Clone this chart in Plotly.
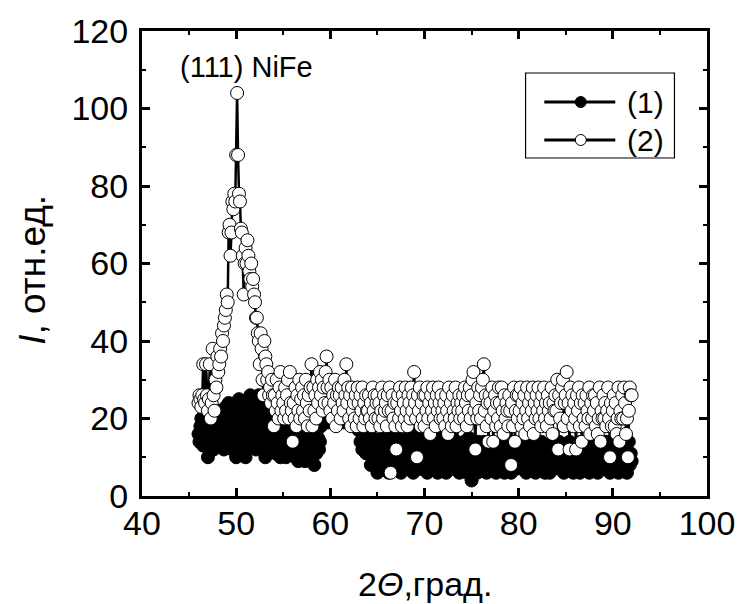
import numpy as np
import plotly.graph_objects as go

# 2-theta scan grid (degrees), step 0.1
two_theta = np.round(np.arange(46.0, 92.0001, 0.1), 1)

# Series (1) - filled circles (one row = 1 degree)
intensity_1 = [
    16, 14, 18, 20, 15, 13, 17, 19, 14, 16,
    10, 15, 18, 13, 20, 16, 12, 17, 21, 14,
    16, 19, 13, 22, 17, 15, 20, 12, 18, 23,
    15, 19, 24, 14, 21, 17, 12, 20, 16, 22,
    10, 18, 22, 25, 14, 20, 12, 17, 23, 15,
    10, 21, 16, 24, 13, 26, 19, 14, 22, 17,
    24, 12, 20, 16, 26, 18, 13, 22, 15, 19,
    21, 10, 17, 24, 14, 19, 12, 22, 16, 13,
    14, 20, 11, 17, 22, 13, 18, 10, 15, 20,
    18, 12, 16, 10, 14, 19, 11, 15, 21, 13,
    17, 12, 15, 10, 14, 18, 9, 13, 16, 11,
    14, 18, 12, 9, 16, 13, 11, 15, 10, 17,
    12, 16, 14, 8, 13, 11, 17, 15, 12, 14,
    18, 20, 19, 22, 19, 21, 20, 22, 19, 21,
    20, 22, 21, 19, 23, 20, 22, 21, 19, 22,
    21, 23, 20, 22, 19, 21, 23, 22, 20, 21,
    22, 20, 23, 21, 19, 22, 20, 18, 21, 19,
    17, 19, 14, 18, 12, 16, 13, 17, 11, 15,
    16, 11, 14, 8, 12, 15, 10, 13, 9, 14,
    6, 10, 14, 7, 12, 9, 15, 11, 8, 13,
    9, 14, 6, 11, 16, 8, 12, 10, 14, 7,
    11, 9, 15, 8, 12, 6, 10, 14, 9, 12,
    8, 13, 10, 15, 7, 11, 9, 14, 6, 12,
    10, 16, 8, 12, 9, 14, 7, 11, 13, 8,
    12, 9, 15, 6, 10, 13, 8, 14, 7, 11,
    9, 14, 8, 12, 6, 10, 15, 8, 11, 7,
    13, 9, 11, 6, 14, 8, 10, 12, 7, 16,
    9, 12, 7, 11, 14, 8, 10, 6, 13, 9,
    11, 7, 14, 9, 12, 6, 10, 15, 8, 11,
    4, 9, 13, 7, 12, 10, 6, 14, 8, 11,
    12, 7, 10, 14, 8, 11, 6, 13, 9, 12,
    8, 11, 14, 7, 10, 12, 6, 9, 13, 8,
    11, 7, 14, 9, 12, 6, 10, 13, 8, 11,
    9, 12, 6, 10, 14, 8, 11, 7, 13, 9,
    12, 8, 10, 14, 7, 11, 9, 13, 6, 10,
    14, 9, 12, 7, 11, 8, 13, 10, 6, 12,
    9, 13, 7, 11, 14, 8, 10, 12, 6, 11,
    13, 8, 11, 6, 12, 9, 14, 7, 10, 12,
    8, 12, 10, 14, 7, 11, 9, 13, 6, 10,
    12, 7, 11, 9, 14, 8, 10, 13, 6, 11,
    9, 13, 8, 12, 10, 6, 14, 9, 11, 7,
    12, 10, 14, 8, 11, 6, 13, 9, 12, 7,
    10, 14, 8, 12, 6, 11, 9, 13, 7, 10,
    13, 8, 11, 14, 7, 10, 12, 6, 9, 12,
    8, 11, 13, 7, 10, 14, 6, 9, 12, 8,
    11, 7, 13, 9, 12, 6, 10, 14, 8, 11,
    9,
]

# Series (2) - open circles (one row = 1 degree)
intensity_2 = [
    24, 26, 25, 23, 26, 34, 25, 24, 34, 26,
    22, 25, 34, 20, 24, 38, 26, 22, 30, 28,
    36, 32, 34, 38, 36, 42, 40, 44, 46, 48,
    52, 50, 68, 70, 62, 68, 76, 74, 78, 76,
    88, 104, 88, 78, 76, 69, 68, 62, 52, 60,
    64, 60, 66, 62, 58, 56, 60, 54, 56, 52,
    50, 46, 46, 42, 40, 34, 42, 38, 30, 26,
    40, 36, 34, 30, 32, 26, 28, 24, 30, 26,
    18, 26, 22, 30, 24, 20, 28, 32, 22, 26,
    24, 20, 28, 22, 26, 30, 20, 32, 24, 22,
    14, 24, 20, 28, 18, 26, 22, 30, 20, 25,
    28, 22, 26, 20, 30, 24, 18, 26, 22, 28,
    34, 18, 28, 22, 26, 20, 30, 24, 28, 32,
    26, 30, 22, 28, 24, 32, 36, 28, 24, 30,
    22, 28, 20, 26, 24, 30, 18, 26, 22, 28,
    26, 20, 28, 24, 22, 30, 26, 34, 24, 28,
    20, 26, 18, 28, 22, 24, 20, 26, 18, 28,
    24, 20, 26, 22, 28, 18, 24, 20, 26, 22,
    22, 26, 20, 24, 18, 28, 22, 26, 20, 24,
    26, 20, 24, 18, 22, 28, 20, 26, 22, 24,
    18, 26, 22, 28, 6, 22, 26, 20, 24, 18,
    12, 24, 26, 20, 28, 22, 18, 26, 24, 20,
    28, 22, 18, 26, 24, 20, 28, 22, 26, 32,
    24, 20, 10, 26, 22, 28, 18, 24, 20, 26,
    18, 26, 22, 28, 20, 24, 16, 26, 22, 28,
    20, 24, 18, 26, 22, 28, 24, 20, 26, 22,
    20, 24, 18, 26, 22, 16, 28, 20, 24, 18,
    26, 22, 20, 28, 18, 24, 22, 26, 20, 24,
    22, 26, 20, 28, 24, 18, 26, 22, 28, 20,
    26, 30, 32, 22, 12, 24, 20, 28, 22, 26,
    20, 28, 30, 34, 22, 26, 18, 24, 14, 26,
    24, 20, 28, 14, 22, 26, 18, 24, 20, 28,
    24, 18, 28, 22, 16, 26, 20, 24, 22, 18,
    26, 22, 8, 24, 18, 28, 14, 22, 26, 20,
    26, 22, 28, 18, 24, 20, 26, 16, 22, 28,
    20, 24, 18, 26, 22, 28, 16, 24, 20, 26,
    22, 28, 20, 24, 18, 26, 22, 28, 20, 24,
    18, 26, 22, 24, 20, 28, 16, 24, 22, 26,
    22, 30, 12, 26, 20, 24, 28, 30, 18, 24,
    26, 32, 20, 24, 12, 28, 22, 26, 18, 24,
    20, 12, 26, 22, 28, 18, 24, 14, 26, 20,
    24, 18, 26, 22, 20, 28, 16, 24, 20, 26,
    22, 26, 18, 24, 16, 20, 28, 14, 22, 20,
    26, 20, 24, 18, 22, 28, 20, 10, 24, 18,
    22, 26, 18, 24, 16, 20, 28, 14, 22, 20,
    26, 20, 28, 24, 16, 20, 10, 22, 28, 26,
    26,
]

x_ticks = [40, 50, 60, 70, 80, 90, 100]
y_ticks = [0, 20, 40, 60, 80, 100, 120]
series_names = ["(1)", "(2)"]

FONT = "Liberation Sans, Arial, sans-serif"
MSIZE = 13

fig = go.Figure()
fig.add_trace(go.Scatter(
    x=two_theta, y=intensity_1, mode="lines+markers", name=series_names[0],
    line=dict(color="black", width=2.5),
    marker=dict(symbol="circle", size=MSIZE, color="black", line=dict(color="black", width=1)),
    showlegend=False,
))
fig.add_trace(go.Scatter(
    x=two_theta, y=intensity_2, mode="lines+markers", name=series_names[1],
    line=dict(color="black", width=2.5),
    marker=dict(symbol="circle", size=MSIZE, color="white", line=dict(color="black", width=1)),
    showlegend=False,
))

axis_common = dict(
    showline=True, linecolor="black", linewidth=3, mirror="allticks",
    ticks="inside", ticklen=8, tickwidth=2.5, tickcolor="black",
    showgrid=False, zeroline=False,
    tickfont=dict(family=FONT, size=34, color="black"),
)

fig.update_xaxes(range=[40, 100], tickvals=x_ticks, ticklabelstandoff=-5,
                 minor=dict(ticks="inside", ticklen=4, tickwidth=2, dtick=5, tick0=40, tickcolor="black", showgrid=False),
                 **axis_common)
fig.update_yaxes(range=[0, 120], tickvals=y_ticks, ticklabelstandoff=4,
                 minor=dict(ticks="inside", ticklen=4, tickwidth=2, dtick=10, tick0=0, tickcolor="black", showgrid=False),
                 **axis_common)

annotations = [
    dict(text="(111) NiFe", x=51.1, y=110.8, xref="x", yref="y", showarrow=False,
         font=dict(family=FONT, size=29, color="black"), xanchor="center", yanchor="middle"),
    dict(text="2<i>Θ</i>,град.", x=0.5, y=-0.19, xref="paper", yref="paper", showarrow=False,
         font=dict(family=FONT, size=34, color="black"), xanchor="center", yanchor="middle"),
    dict(text="<i>I</i>, отн.ед.", x=-0.195, y=0.486, xref="paper", yref="paper", showarrow=False,
         textangle=-90, font=dict(family=FONT, size=37, color="black"), xanchor="center", yanchor="middle"),
]

# manual legend
px0, px1 = 142, 715
py0, py1 = 496, 31
def fx(p):
    return (p - px0) / (px1 - px0)
def fy(p):
    return (py0 - p) / (py0 - py1)

shapes = [
    dict(type="rect", xref="paper", yref="paper", x0=fx(531), x1=fx(682), y0=fy(158), y1=fy(73),
         line=dict(color="black", width=1.2), fillcolor="white", layer="above"),
]
legend_rows = [(102, "black"), (140, "white")]
for (row_y, fill), name in zip(legend_rows, series_names):
    shapes.append(dict(type="line", xref="paper", yref="paper", x0=fx(550), x1=fx(622),
                       y0=fy(row_y), y1=fy(row_y), line=dict(color="black", width=3), layer="above"))
    shapes.append(dict(type="circle", xref="paper", yref="paper", xsizemode="pixel", ysizemode="pixel",
                       xanchor=fx(587), yanchor=fy(row_y), x0=-5.5, x1=5.5, y0=-5.5, y1=5.5,
                       fillcolor=fill, line=dict(color="black", width=1), layer="above"))
    annotations.append(dict(text=name, x=fx(632), y=fy(row_y), xref="paper", yref="paper",
                            showarrow=False, xanchor="left", yanchor="middle",
                            font=dict(family=FONT, size=30, color="black")))

fig.update_layout(
    width=747, height=604,
    margin=dict(l=142, r=32, t=31, b=108),
    paper_bgcolor="white", plot_bgcolor="white",
    annotations=annotations, shapes=shapes, showlegend=False,
)

fig.write_html("out.html")
